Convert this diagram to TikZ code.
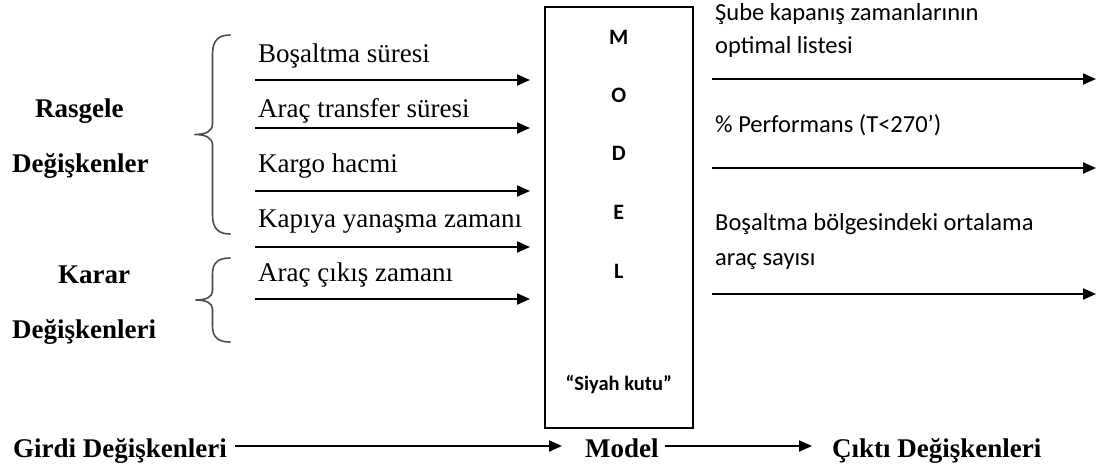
\documentclass[tikz,border=0pt]{standalone}
\usepackage{fontspec}
\setmainfont{Liberation Serif}
\newfontfamily\calib{Carlito}
\usetikzlibrary{arrows.meta}

\begin{document}
\begin{tikzpicture}[x=1pt,y=-1pt,
  serif/.style={font=\fontsize{27}{32}\selectfont, inner sep=0pt, anchor=base west},
  serifb/.style={font=\fontsize{27}{32}\selectfont\bfseries, inner sep=0pt, anchor=base west},
  sans/.style={font=\calib\fontsize{24.5}{29}\selectfont, inner sep=0pt, anchor=base west},
  letter/.style={font=\calib\fontsize{22}{26}\selectfont\bfseries, inner sep=0pt},
  note/.style={font=\calib\fontsize{20.5}{24}\selectfont\bfseries, inner sep=0pt, anchor=base},
  arr/.style={line width=2pt, -{Triangle[length=13pt,width=11pt]}},
  bracepath/.style={line width=1.6pt, black!70, line cap=round, line join=round},
  modelbox/.style={draw, line width=2pt, minimum width=147.5pt, minimum height=421pt, inner sep=0pt},
]
\useasboundingbox (0,0) rectangle (1097,472);

% the "black box"
\node[modelbox] (box) at (618.75,217.5) {};
\node[letter] (lm) at (618.75,37)  {M};
\node[letter] (lo) at (618.75,95)  {O};
\node[letter] (ld) at (618.75,153) {D};
\node[letter] (le) at (618.75,212) {E};
\node[letter] (ll) at (618.75,271) {L};
\node[note] (kutu) at (618.75,390) {“Siyah kutu”};

% groups of input variables
\node[serifb] (rasgele) at (35,117) {Rasgele};
\node[serifb] (degisken1) at (12,172) {Değişkenler};
\node[serifb] (karar) at (58,283) {Karar};
\node[serifb] (degisken2) at (12,338) {Değişkenleri};

\draw[bracepath] (230,35) .. controls (219,35) and (212.5,40) .. (212.5,54)
  -- (212.5,124) .. controls (212.5,131) and (206,134.5) .. (195,134.5)
  .. controls (206,134.5) and (212.5,138) .. (212.5,145)
  -- (212.5,215) .. controls (212.5,229) and (219,234) .. (230,234);
\draw[bracepath] (230,258) .. controls (219,258) and (212.5,262) .. (212.5,274)
  -- (212.5,291) .. controls (212.5,297) and (206,300) .. (196,300)
  .. controls (206,300) and (212.5,303) .. (212.5,309)
  -- (212.5,326) .. controls (212.5,338) and (219,342) .. (230,342);

% input labels and arrows
\node[serif] (in1) at (258,62)  {Boşaltma süresi};
\node[serif] (in2) at (258,117) {Araç transfer süresi};
\node[serif] (in3) at (258,172) {Kargo hacmi};
\node[serif] (in4) at (258,227) {Kapıya yanaşma zamanı};
\node[serif] (in5) at (258,281) {Araç çıkış zamanı};

\coordinate (a1s) at (255,80);  \coordinate (a1e) at (530,80);
\coordinate (a2s) at (255,128); \coordinate (a2e) at (530,128);
\coordinate (a3s) at (255,191); \coordinate (a3e) at (530,191);
\coordinate (a4s) at (255,247); \coordinate (a4e) at (530,247);
\coordinate (a5s) at (255,299); \coordinate (a5e) at (530,299);
\draw[arr] (a1s) -- (a1e);
\draw[arr] (a2s) -- (a2e);
\draw[arr] (a3s) -- (a3e);
\draw[arr] (a4s) -- (a4e);
\draw[arr] (a5s) -- (a5e);

% output labels and arrows
\node[sans] (out1a) at (715,20)  {Şube kapanış zamanlarının};
\node[sans] (out1b) at (715,53)  {optimal listesi};
\node[sans] (out2)  at (715,132) {\% Performans (T<270’)};
\node[sans] (out3a) at (715,230) {Boşaltma bölgesindeki ortalama};
\node[sans] (out3b) at (715,265) {araç sayısı};

\coordinate (b1s) at (712,79);  \coordinate (b1e) at (1096,79);
\coordinate (b2s) at (712,168); \coordinate (b2e) at (1096,168);
\coordinate (b3s) at (712,294); \coordinate (b3e) at (1096,294);
\draw[arr] (b1s) -- (b1e);
\draw[arr] (b2s) -- (b2e);
\draw[arr] (b3s) -- (b3e);

% summary row
\node[serifb] (girdi) at (13,457) {Girdi Değişkenleri};
\node[serifb] (model) at (585,457) {Model};
\node[serifb] (cikti) at (832,457) {Çıktı Değişkenleri};
\draw[arr] ([xshift=8pt,yshift=11pt]girdi.base east) -- ([xshift=-23pt,yshift=11pt]model.base west);
\draw[arr] ([xshift=6pt,yshift=11pt]model.base east) -- ([xshift=-20pt,yshift=11pt]cikti.base west);
\end{tikzpicture}
\end{document}
